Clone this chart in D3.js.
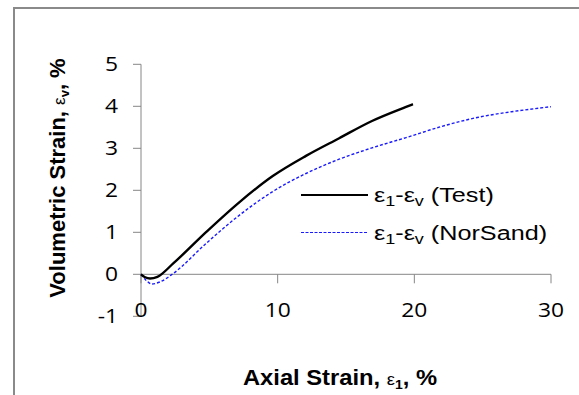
<!DOCTYPE html>
<html lang="en">
<head>
    <meta charset="UTF-8">
    <title>Volumetric strain</title>
    <script src="https://d3js.org/d3.v7.min.js"></script>
</head>
<body>
<style>
    body{
        margin: 0;
        background: #fff;
    }
    .tick-label{
        font-family: "Open Sans", "Liberation Sans", sans-serif;
        font-size: 20px;
        fill: #000;
    }
    .axis-title{
        font-family: "Liberation Sans", Arial, sans-serif;
        font-weight: bold;
        font-size: 22px;
    }
    .legend{
        font-family: "Liberation Sans", Arial, sans-serif;
        font-size: 21px;
    }
</style>

<script>
    // measured test data
    const testStrain = [0, 0.3, 0.66, 1.2, 2.36, 4.78, 7.21, 9.64, 12.07, 14.5, 16.9, 19.35, 19.9];
    const testVol = [0, -0.07, -0.1, -0.06, 0.26, 1.01, 1.72, 2.34, 2.82, 3.24, 3.65, 3.98, 4.05];

    // NorSand model
    const nsStrain = [0, 0.4, 0.8, 1.4, 2.36, 4.78, 7.21, 9.64, 12.07, 14.5, 16.9, 19.35, 22, 24.7, 27.1, 30];
    const nsVol = [0, -0.15, -0.23, -0.18, 0.02, 0.74, 1.41, 1.97, 2.40, 2.74, 3.01, 3.25, 3.52, 3.74, 3.87, 3.99];

    const xTicks = [0, 10, 20, 30];
    const yTicks = [-1, 0, 1, 2, 3, 4, 5];

    const W = 579, H = 395;
    const stretch = 1.14;   // the original picture is a bit wider than tall

    const svg = d3.select("body")
        .append("svg")
        .attr("width", W)
        .attr("height", H);

    // chart frame (only top + left visible)
    svg.append("path")
        .attr("d", "M14," + H + "V8H" + W)
        .attr("fill", "none")
        .attr("stroke", "#8a8a8a")
        .attr("stroke-width", 2);

    const x = d3.scaleLinear().domain([0, 30]).range([141, 551]);
    const y = d3.scaleLinear().domain([-1, 5]).range([316.3, 64.3]);

    // y axis
    svg.append("line")
        .attr("x1", x(0)).attr("x2", x(0))
        .attr("y1", y(5)).attr("y2", y(-1))
        .attr("stroke", "#868686");

    svg.selectAll(".ytick")
        .data(yTicks)
        .enter()
        .append("line")
        .attr("x1", x(0) - 8)
        .attr("x2", x(0))
        .attr("y1", d => y(d))
        .attr("y2", d => y(d))
        .attr("stroke", "#868686");

    svg.selectAll(".ylab")
        .data(yTicks)
        .enter()
        .append("text")
        .attr("class", "tick-label")
        .attr("transform", d => "translate(118," + (y(d) + 7) + ") scale(" + stretch + ",1)")
        .attr("text-anchor", "end")
        .text(d => d);

    // x axis at zero
    svg.append("line")
        .attr("x1", x(0)).attr("x2", x(30))
        .attr("y1", y(0)).attr("y2", y(0))
        .attr("stroke", "#868686");

    svg.selectAll(".xtick")
        .data(xTicks)
        .enter()
        .append("line")
        .attr("x1", d => x(d))
        .attr("x2", d => x(d))
        .attr("y1", y(0))
        .attr("y2", y(0) + 9)
        .attr("stroke", "#868686");

    svg.selectAll(".xlab")
        .data(xTicks)
        .enter()
        .append("text")
        .attr("class", "tick-label")
        .attr("transform", d => "translate(" + x(d) + ",317) scale(" + stretch + ",1)")
        .attr("text-anchor", "middle")
        .text(d => d);

    // curves
    const line = d3.line()
        .x(d => x(d[0]))
        .y(d => y(d[1]))
        .curve(d3.curveMonotoneX);

    svg.append("path")
        .datum(d3.zip(nsStrain, nsVol))
        .attr("d", line)
        .attr("fill", "none")
        .attr("stroke", "#1a1aff")
        .attr("stroke-width", 1.4)
        .attr("stroke-dasharray", "3,2");

    svg.append("path")
        .datum(d3.zip(testStrain, testVol))
        .attr("d", line)
        .attr("fill", "none")
        .attr("stroke", "#000")
        .attr("stroke-width", 2.4);

    // axis titles
    const xt = svg.append("text")
        .attr("class", "axis-title")
        .attr("transform", "translate(340,385) scale(1.08,1)")
        .attr("text-anchor", "middle");
    xt.append("tspan").text("Axial Strain, ");
    xt.append("tspan").attr("font-weight", "normal").attr("font-size", 17).text("ε");
    xt.append("tspan").attr("font-size", 13).attr("dy", 4).text("1");
    xt.append("tspan").attr("dy", -4).text(", %");

    const yt = svg.append("text")
        .attr("class", "axis-title")
        .attr("transform", "translate(65,178) rotate(-90)")
        .attr("text-anchor", "middle");
    yt.append("tspan").text("Volumetric Strain, ");
    yt.append("tspan").attr("font-weight", "normal").attr("font-size", 17).text("ε");
    yt.append("tspan").attr("font-size", 13).attr("dy", 4).text("v");
    yt.append("tspan").attr("dy", -4).text(", %");

    // legend
    const legendItems = ["Test", "NorSand"];
    const legendY = [195, 232.5];
    const legendStroke = ["#000", "#1a1aff"];

    legendItems.forEach(function(name, i){
        svg.append("line")
            .attr("x1", 301).attr("x2", 368)
            .attr("y1", legendY[i]).attr("y2", legendY[i])
            .attr("stroke", legendStroke[i])
            .attr("stroke-width", i == 0 ? 2.2 : 1)
            .attr("stroke-dasharray", i == 0 ? null : "3,1.5");

        const t = svg.append("text")
            .attr("class", "legend")
            .attr("transform", "translate(374," + (legendY[i] + 7) + ") scale(1.2,1)");
        t.append("tspan").text("ε");
        t.append("tspan").attr("font-size", 15).attr("dy", 4).text("1");
        t.append("tspan").attr("dy", -4).text("-ε");
        t.append("tspan").attr("font-size", 15).attr("dy", 4).text("v");
        t.append("tspan").attr("dy", -4).text(" (" + name + ")");
    });
</script>
</body>
</html>
